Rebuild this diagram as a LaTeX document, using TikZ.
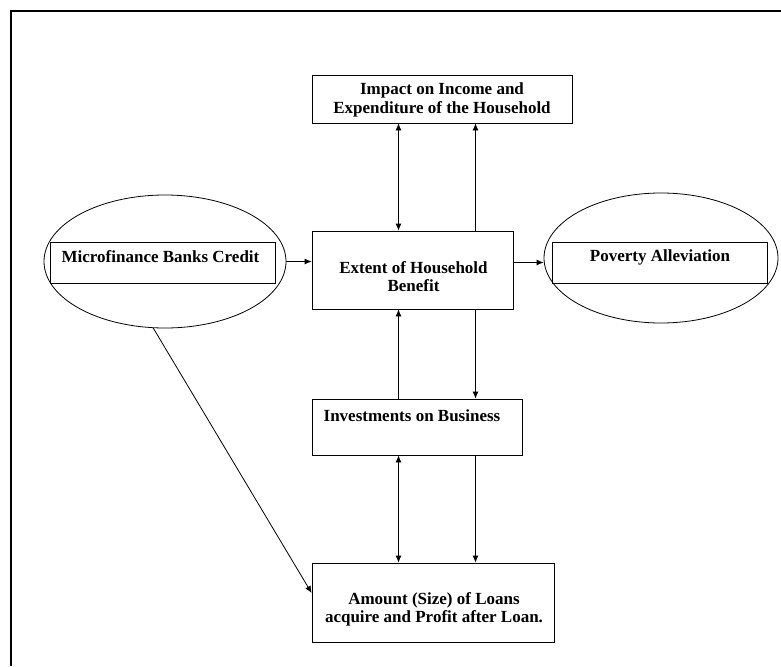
\documentclass[tikz,border=0pt]{standalone}
\usepackage{fontspec}
\setmainfont{Liberation Serif}
\usetikzlibrary{shapes.geometric, arrows.meta}

\tikzset{
  box/.style={draw, rectangle, line width=0.8pt},
  oval/.style={draw, ellipse, line width=0.8pt},
  lbl/.style={font=\bfseries\fontsize{17}{18.5}\selectfont, align=center, inner sep=0pt},
  conn/.style={line width=0.8pt, -{Latex[length=7pt,width=6pt]}},
  dconn/.style={line width=0.8pt, {Latex[length=7pt,width=6pt]}-{Latex[length=7pt,width=6pt]}},
}

\begin{document}
\begin{tikzpicture}[x=1pt, y=-1pt]
  \useasboundingbox (0,0) rectangle (781,666);
  % Draw the frame
  \draw[line width=2pt] (11,666) -- (11,11) -- (781,11);
  % Columns of the vertical links
  \coordinate (lx) at (398.5,0);
  \coordinate (rx) at (475.5,0);
  % Draw the boxes
  \node[box, minimum width=260, minimum height=48] (imp) at (442.00,99.00) {};
  \node[box, minimum width=201.5, minimum height=78] (ext) at (412.75,270.00) {};
  \node[box, minimum width=210.5, minimum height=56] (inv) at (417.25,427.00) {};
  \node[box, minimum width=242, minimum height=79] (amt) at (433.00,602.50) {};
  \node[oval, minimum width=242, minimum height=133] (mfbell) at (165.00,261.50) {};
  \node[box, minimum width=225, minimum height=41] (mfb) at (162.50,262.50) {};
  \node[oval, minimum width=234, minimum height=130] (povell) at (661.00,258.00) {};
  \node[box, minimum width=215.5, minimum height=41] (pov) at (660.00,262.50) {};
  % Texts of the boxes
  \node[lbl] (imptxt) at (442.00,100.00) {Impact on Income and\\Expenditure of the Household};
  \node[lbl] (exttxt) at (413.50,276.50) {Extent of Household\\Benefit};
  \node[lbl] (invtxt) at (412.00,415.50) {Investments on Business};
  \node[lbl] (amttxt) at (434.00,609.50) {Amount (Size) of Loans\\acquire and Profit after Loan.};
  \node[lbl] (mfbtxt) at (160.50,257.00) {Microfinance Banks Credit};
  \node[lbl] (povtxt) at (660.00,257.00) {Poverty Alleviation};
  % Draw the relations
  \draw[dconn] (imp.south -| lx) -- (ext.north -| lx);
  \draw[conn] (ext.north -| rx) -- (imp.south -| rx);
  \draw[conn] (mfbell.east) -- (mfbell.east -| ext.west);
  \draw[conn] (ext.east |- pov.west) -- (povell.west |- pov.west);
  \draw[conn] (inv.north -| lx) -- (ext.south -| lx);
  \draw[conn] (ext.south -| rx) -- (inv.north -| rx);
  \draw[dconn] (inv.south -| lx) -- (amt.north -| lx);
  \draw[conn] (inv.south -| rx) -- (amt.north -| rx);
  \draw[conn] (mfbell.260) -- ([yshift=9.5pt]amt.west);
\end{tikzpicture}
\end{document}
